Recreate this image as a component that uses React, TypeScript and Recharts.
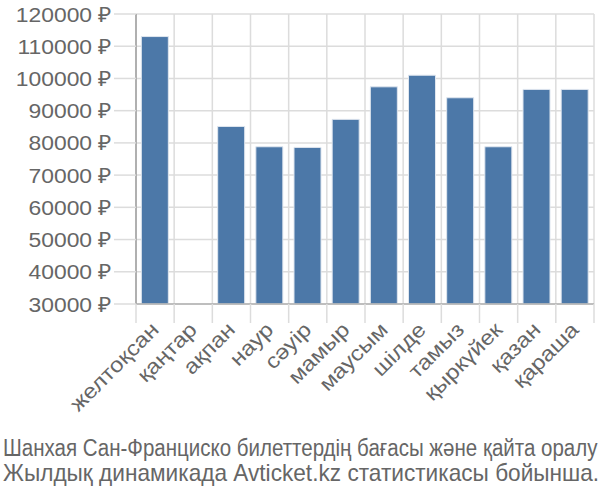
import React from 'react';
import { BarChart, Bar, XAxis, YAxis, CartesianGrid } from 'recharts';

const months = ['желтоқсан', 'қаңтар', 'ақпан', 'наур', 'сәуір', 'мамыр', 'маусым', 'шілде', 'тамыз', 'қыркүйек', 'қазан', 'қараша'];
const prices: (number | null)[] = [113000, null, 85100, 78800, 78600, 87300, 97400, 101000, 94000, 78800, 96600, 96600];
const yTicks = [30000, 40000, 50000, 60000, 70000, 80000, 90000, 100000, 110000, 120000];
const captionLines = [
  'Шанхая Сан-Франциско билеттердің бағасы және қайта оралу',
  'Жылдық динамикада Avticket.kz статистикасы бойынша.',
];

const data = months.map((m, i) => ({ month: m, price: prices[i] }));

const W = 600;
const CH = 430;
const LEFT = 136;
const RIGHT_M = 6;
const TOP = 14;
const XAXIS_H = 126;
const PLOT_W = W - LEFT - RIGHT_M;
const BAND = PLOT_W / months.length;
const FONT = '"Liberation Sans", Arial, sans-serif';
const TEXT = '#666';
const GRID = '#dcdcdc';
const AXIS = '#b0b0b0';

const XTick = (props: any) => {
  const { x, y, payload, index } = props;
  const isLast = index === months.length - 1;
  const ax = x + 5;
  const ay = y + 27;
  return (
    <g>
      <line x1={x - BAND / 2} x2={x - BAND / 2} y1={y} y2={y + 19} stroke={GRID} strokeWidth={1.5} />
      {isLast && <line x1={x + BAND / 2} x2={x + BAND / 2} y1={y} y2={y + 19} stroke={GRID} strokeWidth={1.5} />}
      <text
        x={0}
        y={0}
        transform={`translate(${ax}, ${ay}) rotate(-45) scale(1.14, 1)`}
        textAnchor="end"
        fill={TEXT}
        fontSize={21}
        fontFamily={FONT}
      >
        {payload.value}
      </text>
    </g>
  );
};

const YTick = (props: any) => {
  const { x, y, payload } = props;
  return (
    <text
      x={0}
      y={0}
      transform={`translate(${x}, ${y + 7.5}) scale(1.09, 1)`}
      textAnchor="end"
      fill={TEXT}
      fontSize={21}
      fontFamily={FONT}
    >
      {`${payload.value} ₽`}
    </text>
  );
};

export default function App() {
  return (
    <div style={{ position: 'absolute', left: 0, top: 0, width: W, height: 500, background: '#fff', fontFamily: FONT }}>
      <BarChart
        width={W}
        height={CH}
        data={data}
        margin={{ top: TOP, right: RIGHT_M, left: 0, bottom: 0 }}
        barCategoryGap="14%"
      >
        <CartesianGrid
          stroke={GRID}
          strokeWidth={1.5}
          verticalCoordinatesGenerator={({ offset }: any) =>
            months.map((_, i) => offset.left + (i + 1) * (offset.width / months.length))
          }
        />
        <XAxis
          dataKey="month"
          interval={0}
          height={XAXIS_H}
          tickSize={0}
          tickMargin={0}
          tick={<XTick />}
          axisLine={{ stroke: AXIS, strokeWidth: 1.5 }}
          tickLine={false}
        />
        <YAxis
          width={LEFT}
          domain={[30000, 120000]}
          ticks={yTicks}
          interval={0}
          tickSize={22}
          tickMargin={2}
          tick={<YTick />}
          tickLine={{ stroke: GRID, strokeWidth: 1.5 }}
          axisLine={{ stroke: AXIS, strokeWidth: 2 }}
          allowDataOverflow
        />
        <Bar dataKey="price" fill="#4c78a8" stroke="#dfe6ef" strokeWidth={1} isAnimationActive={false} />
      </BarChart>
      <svg width={W} height={70} style={{ position: 'absolute', left: 0, top: CH }}>
        <text x={0} y={0} transform="translate(3, 26) scale(0.892, 1)" fill={TEXT} fontSize={23} fontFamily={FONT}>
          {captionLines[0]}
        </text>
        <text x={0} y={0} transform="translate(3, 51) scale(0.985, 1)" fill={TEXT} fontSize={23} fontFamily={FONT}>
          {captionLines[1]}
        </text>
      </svg>
    </div>
  );
}
